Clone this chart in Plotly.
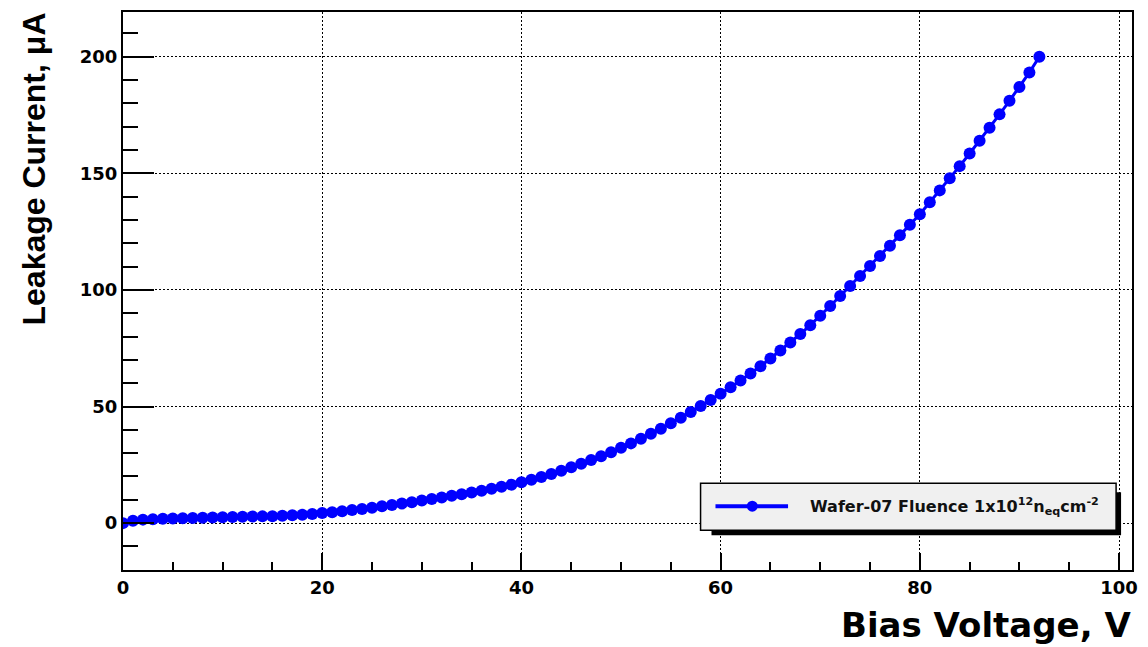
import plotly.graph_objects as go

# Bias voltage (V) and leakage current (uA)
bias_voltage = list(range(0, 93))
leakage_current = [
    0.0, 1.0, 1.5, 1.7, 1.9, 2.0, 2.1, 2.2, 2.3, 2.4,
    2.5, 2.6, 2.7, 2.8, 2.9, 3.0, 3.2, 3.4, 3.6, 3.9,
    4.3, 4.7, 5.1, 5.6, 6.1, 6.6, 7.2, 7.8, 8.4, 9.0,
    9.7, 10.3, 11.0, 11.7, 12.4, 13.1, 13.9, 14.7, 15.6, 16.5,
    17.5, 18.6, 19.8, 21.1, 22.5, 24.0, 25.5, 27.1, 28.7, 30.4,
    32.3, 34.2, 36.2, 38.3, 40.5, 42.8, 45.2, 47.7, 50.2, 52.8,
    55.5, 58.3, 61.2, 64.2, 67.3, 70.6, 74.0, 77.5, 81.1, 84.9,
    88.9, 93.1, 97.4, 101.7, 106.0, 110.3, 114.6, 119.0, 123.5, 128.0,
    132.5, 137.6, 142.7, 147.9, 153.1, 158.5, 164.0, 169.6, 175.3, 181.1,
    187.0, 193.3, 200.0,
]

x_range = [0, 101.3]
y_range = [-20.1, 219.2]
x_title = "Bias Voltage, V"
y_title = "Leakage Current, μA"
legend_label = "Wafer-07 Fluence 1x10<sup>12</sup>n<sub>eq</sub>cm<sup>-2</sup>"

WIDE = "DejaVu Sans, Verdana, sans-serif"
NARROW = "Liberation Sans, Arial, Helvetica, sans-serif"
BLUE = "#0000ff"

fig = go.Figure()
fig.add_trace(go.Scatter(
    x=bias_voltage, y=leakage_current, mode="lines+markers",
    line=dict(color=BLUE, width=3),
    marker=dict(color=BLUE, size=12, symbol="circle", line=dict(width=0)),
    showlegend=False,
))

axis_common = dict(
    showline=True, linecolor="black", linewidth=2, mirror=True,
    ticks="inside", tickcolor="black", tickwidth=2,
    showgrid=True, gridcolor="black", gridwidth=1.2, griddash="1.5px,2.5px",
    zeroline=False,
    tickfont=dict(family=WIDE, size=18, color="black", weight="bold"),
)

fig.update_xaxes(range=x_range, dtick=20, tick0=0, ticklen=17,
                 minor=dict(dtick=5, ticklen=8, ticks="inside", tickcolor="black",
                            tickwidth=2, showgrid=False),
                 **axis_common)
fig.update_yaxes(range=y_range, dtick=50, tick0=0, ticklen=31,
                 minor=dict(dtick=10, ticklen=15, ticks="inside", tickcolor="black",
                            tickwidth=2, showgrid=False),
                 **axis_common)

# Legend box drawn ROOT-style (shadow + light grey box)
L, R, T, B = 123, 10, 10, 77
W, H = 1148 - L - R, 647 - T - B

def px(xp):
    return (xp - L) / W

def py(yp):
    return (647 - B - yp) / H

shapes = [
    dict(type="rect", xref="paper", yref="paper", layer="above",
         x0=px(715), x1=px(1127), y0=py(535), y1=py(492),
         fillcolor="black", line=dict(width=0)),
    dict(type="rect", xref="paper", yref="paper", layer="above",
         x0=px(704), x1=px(1122), y0=py(530), y1=py(483),
         fillcolor="#f0f0f0", line=dict(color="black", width=1.5)),
    dict(type="line", xref="paper", yref="paper", layer="above",
         x0=px(719), x1=px(792), y0=py(506), y1=py(506),
         line=dict(color=BLUE, width=4)),
    dict(type="circle", xref="paper", yref="paper", layer="above",
         xsizemode="pixel", ysizemode="pixel",
         xanchor=px(756), yanchor=py(506), x0=-5.5, x1=5.5, y0=-5.5, y1=5.5,
         fillcolor=BLUE, line=dict(width=0)),
]

annotations = [
    dict(text=legend_label, xref="paper", yref="paper", x=px(812), y=py(506),
         xanchor="left", yanchor="middle", showarrow=False,
         font=dict(family=WIDE, size=16, color="#111111", weight="bold")),
    dict(text=x_title, xref="paper", yref="paper", x=1, y=0,
         xanchor="right", yanchor="top", yshift=-33, xshift=1, showarrow=False,
         font=dict(family=WIDE, size=34, color="black", weight="bold")),
    dict(text=y_title, xref="paper", yref="paper", x=0, y=1,
         xanchor="right", yanchor="top", xshift=-70, yshift=2, textangle=-90,
         showarrow=False,
         font=dict(family=NARROW, size=32, color="black", weight="bold")),
]

fig.update_layout(
    width=1148, height=647,
    margin=dict(l=L, r=R, t=T, b=B),
    paper_bgcolor="white", plot_bgcolor="white",
    shapes=shapes, annotations=annotations,
    showlegend=False,
)

fig.write_html("out.html", config={"displayModeBar": False},
               post_script="document.body.style.margin='0';document.body.style.overflow='hidden';")
